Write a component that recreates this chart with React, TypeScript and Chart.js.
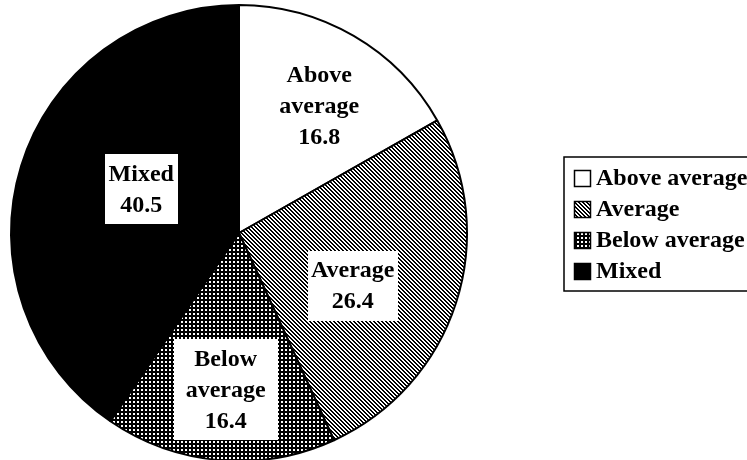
import React, { useEffect, useRef } from "react";
import { Chart, registerables } from "chart.js";

Chart.register(...registerables);

// ---- data ----
const CATEGORIES = ["Above average", "Average", "Below average", "Mixed"];
const VALUES = [16.8, 26.4, 16.4, 40.5];
const SLICE_LABELS = [["Above", "average"], ["Average"], ["Below", "average"], ["Mixed"]];

// ---- style / layout constants ----
const FONT = 'bold 24px "Liberation Serif", "Times New Roman", serif';
const LABEL_RADIUS_FRAC = [0.66, 0.55, 0.69, 0.47];
const LABEL_ANGLE_SHIFT_DEG = [2, 7, 0, 7];
const LABEL_PAD_X = [4, 3, 12, 4];
const LABEL_PAD_Y = 4;
const LINE_H = 31;

function makeStripes(ctx: CanvasRenderingContext2D) {
  const c = document.createElement("canvas");
  c.width = 4;
  c.height = 4;
  const g = c.getContext("2d")!;
  g.fillStyle = "#fff";
  g.fillRect(0, 0, 4, 4);
  g.fillStyle = "#000";
  for (let y = 0; y < 4; y++)
    for (let x = 0; x < 4; x++) if ((((x - y) % 4) + 4) % 4 < 2) g.fillRect(x, y, 1, 1);
  return ctx.createPattern(c, "repeat")!;
}

function makeDots(ctx: CanvasRenderingContext2D) {
  const c = document.createElement("canvas");
  c.width = 4;
  c.height = 4;
  const g = c.getContext("2d")!;
  g.fillStyle = "#000";
  g.fillRect(0, 0, 4, 4);
  g.fillStyle = "#fff";
  g.fillRect(1, 1, 2, 2);
  return ctx.createPattern(c, "repeat")!;
}

const sliceLabelPlugin = {
  id: "sliceLabels",
  afterDatasetsDraw(chart: any) {
    const ctx: CanvasRenderingContext2D = chart.ctx;
    const meta = chart.getDatasetMeta(0);
    const values = chart.data.datasets[0].data as number[];
    ctx.save();
    ctx.font = FONT;
    ctx.textAlign = "center";
    ctx.textBaseline = "middle";
    meta.data.forEach((arc: any, i: number) => {
      const p = arc.getProps(["x", "y", "startAngle", "endAngle", "outerRadius"], true);
      const mid = (p.startAngle + p.endAngle) / 2 + (LABEL_ANGLE_SHIFT_DEG[i] * Math.PI) / 180;
      const r = p.outerRadius * LABEL_RADIUS_FRAC[i];
      const cx = p.x + Math.cos(mid) * r;
      const cy = p.y + Math.sin(mid) * r;
      const lines = [...SLICE_LABELS[i], values[i].toFixed(1)];
      const w = Math.max(...lines.map((l) => ctx.measureText(l).width)) + 2 * LABEL_PAD_X[i];
      const h = lines.length * LINE_H + 2 * LABEL_PAD_Y;
      ctx.fillStyle = "#fff";
      ctx.fillRect(Math.round(cx - w / 2), Math.round(cy - h / 2), Math.round(w), Math.round(h));
      ctx.fillStyle = "#000";
      lines.forEach((l, k) => {
        ctx.fillText(l, cx, cy - ((lines.length - 1) * LINE_H) / 2 + k * LINE_H + 1);
      });
    });
    ctx.restore();
  },
};

const legendPlugin = {
  id: "boxLegend",
  afterDraw(chart: any) {
    const ctx: CanvasRenderingContext2D = chart.ctx;
    const labels = chart.data.labels as string[];
    const bg = chart.data.datasets[0].backgroundColor as any[];
    const left = 564;
    const top = 157;
    const rowH = 31;
    ctx.save();
    ctx.strokeStyle = "#000";
    ctx.lineWidth = 1.5;
    ctx.strokeRect(left, top, 300, labels.length * rowH + 10);
    ctx.font = FONT;
    ctx.textAlign = "left";
    ctx.textBaseline = "middle";
    labels.forEach((lab, i) => {
      const cy = top + 21 + i * rowH;
      ctx.fillStyle = bg[i];
      ctx.fillRect(574, cy - 8, 17, 17);
      ctx.lineWidth = 1.5;
      ctx.strokeRect(574.5, cy - 7.5, 16, 16);
      ctx.fillStyle = "#000";
      ctx.fillText(lab, 596, cy + 1);
    });
    ctx.restore();
  },
};

export default function App() {
  const ref = useRef<HTMLCanvasElement>(null);
  useEffect(() => {
    const canvas = ref.current!;
    const ctx = canvas.getContext("2d")!;
    const fills = ["#ffffff", makeStripes(ctx), makeDots(ctx), "#000000"];
    const chart = new Chart(canvas, {
      type: "pie",
      data: {
        labels: CATEGORIES,
        datasets: [
          {
            data: VALUES,
            backgroundColor: fills as any,
            borderColor: "#000",
            borderWidth: 2,
            hoverOffset: 0,
          },
        ],
      },
      options: {
        responsive: false,
        animation: false,
        radius: 228,
        layout: { padding: { left: 8, top: 4, right: 277, bottom: 8 } },
        plugins: {
          legend: { display: false },
          tooltip: { enabled: false },
        },
      } as any,
      plugins: [sliceLabelPlugin, legendPlugin],
    });
    return () => chart.destroy();
  }, []);
  return (
    <div
      style={{
        position: "fixed",
        left: 0,
        top: 0,
        width: 747,
        height: 460,
        overflow: "hidden",
        background: "#fff",
      }}
    >
      <canvas ref={ref} width={747} height={470} style={{ display: "block" }} />
    </div>
  );
}
